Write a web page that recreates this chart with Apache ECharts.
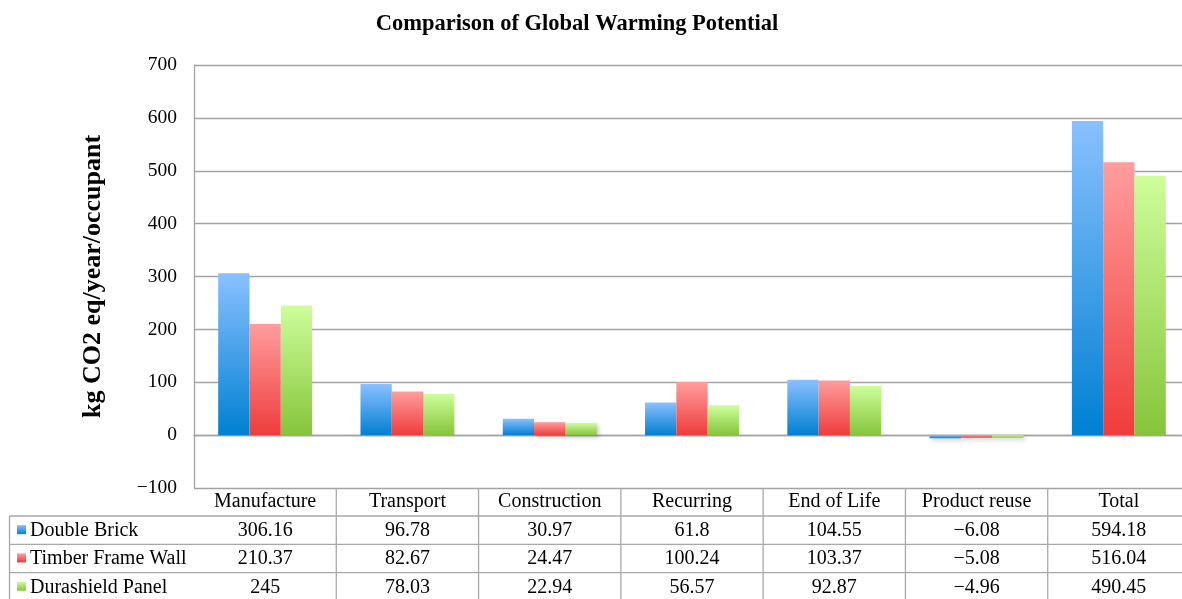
<!DOCTYPE html>
<html>
<head>
<meta charset="utf-8">
<script src="https://cdn.jsdelivr.net/npm/echarts@6/dist/echarts.min.js"></script>
<style>
  html, body { margin: 0; padding: 0; background: #fff; overflow: hidden; }
  /* the last table column runs slightly past the right edge of the page */
  #chart { width: 1190px; height: 599px; }
</style>
</head>
<body>
<div id="chart"></div>
<script>
// Life-cycle stages shown on the category axis and in the data table
const categories = ['Manufacture', 'Transport', 'Construction', 'Recurring', 'End of Life', 'Product reuse', 'Total'];
const seriesNames = ['Double Brick', 'Timber Frame Wall', 'Durashield Panel'];

// kg CO2 eq / year / occupant
const doubleBrick     = [306.16, 96.78, 30.97, 61.8, 104.55, -6.08, 594.18];
const timberFrameWall = [210.37, 82.67, 24.47, 100.24, 103.37, -5.08, 516.04];
const durashieldPanel = [245, 78.03, 22.94, 56.57, 92.87, -4.96, 490.45];

// Value axis ticks
const yMin = -100;
const yMax = 700;
const yStep = 100;

const seriesValues = [doubleBrick, timberFrameWall, durashieldPanel];

const SERIF = "'Liberation Serif', 'Times New Roman', serif";
const GRID_COLOR = '#a3a3a3';
const TABLE_COLOR = '#a8a8a8';

// Vertical gradients, light at the top of each bar and saturated at its base
const gradients = [
  ['#8ac0ff', '#0080d2'],
  ['#ff9d9d', '#ef3c3c'],
  ['#cdfe9b', '#86c53a']
].map(([top, bottom]) => new echarts.graphic.LinearGradient(0, 0, 0, 1, [
  { offset: 0, color: top },
  { offset: 1, color: bottom }
]));

const fmt = v => String(v).replace('-', '\u2212');

const chart = echarts.init(document.getElementById('chart'), null, { renderer: 'canvas' });

chart.setOption({
  animation: false,
  backgroundColor: '#fff',
  title: {
    text: 'Comparison of Global Warming Potential',
    left: 572,
    top: 8,
    textAlign: 'center',
    textStyle: { fontFamily: SERIF, fontWeight: 'bold', fontSize: 22.5, color: '#000' }
  },
  grid: { left: 194, top: 65, width: 996, height: 423, containLabel: false },
  xAxis: {
    type: 'category',
    data: categories,
    axisLine: { show: true, lineStyle: { color: GRID_COLOR, width: 1.3 } },
    axisTick: { show: false },
    axisLabel: { show: false }
  },
  yAxis: {
    type: 'value',
    min: yMin,
    max: yMax,
    interval: yStep,
    name: 'kg CO2 eq/year/occupant',
    nameLocation: 'middle',
    nameGap: 88,
    nameTextStyle: { fontFamily: SERIF, fontWeight: 'bold', fontSize: 26, color: '#000' },
    axisLine: { show: true, lineStyle: { color: GRID_COLOR, width: 1.3 } },
    axisTick: { show: false },
    axisLabel: {
      margin: 17,
      fontFamily: SERIF,
      fontSize: 19.5,
      color: '#000',
      formatter: fmt
    },
    splitLine: { show: true, lineStyle: { color: GRID_COLOR, width: 1.3 } }
  },
  series: seriesNames.map((name, i) => ({
    name,
    type: 'bar',
    data: seriesValues[i],
    barGap: '0%',
    barCategoryGap: '34%',
    itemStyle: {
      color: gradients[i],
      shadowColor: 'rgba(0,0,0,0.22)',
      shadowBlur: 4,
      shadowOffsetX: 2,
      shadowOffsetY: 2
    }
  }))
});

// Data table under the plot, laid out from the axis scales
function buildTable() {
  const c0 = chart.convertToPixel({ xAxisIndex: 0 }, categories[0]);
  const c1 = chart.convertToPixel({ xAxisIndex: 0 }, categories[1]);
  const colW = c1 - c0;
  const left = c0 - colW / 2;
  const right = left + colW * categories.length;
  const top = chart.convertToPixel({ yAxisIndex: 0 }, yMin);
  const headerH = 28;
  const rowH = 28.3;
  const tableLeft = 9.5;
  const bottom = top + headerH + rowH * seriesNames.length;

  const lineStyle = { stroke: TABLE_COLOR, lineWidth: 1.3 };
  const els = [];
  const line = (x1, y1, x2, y2) => els.push({
    type: 'line', silent: true,
    shape: { x1, y1, x2, y2 }, style: lineStyle
  });
  const text = (str, x, y, align) => els.push({
    type: 'text', silent: true, x, y,
    style: {
      text: str, fill: '#000', font: '20px ' + SERIF,
      textAlign: align, textVerticalAlign: 'middle'
    }
  });

  // column separators
  for (let k = 1; k <= categories.length; k++) {
    const x = left + colW * k;
    line(x, top, x, bottom);
  }
  line(tableLeft, top + headerH, tableLeft, bottom);
  // row separators
  for (let r = 0; r <= seriesNames.length; r++) {
    const y = top + headerH + rowH * r;
    line(tableLeft, y, right, y);
  }
  // header row
  categories.forEach((c, k) => text(c, left + colW * (k + 0.5), top + headerH / 2, 'center'));
  // series rows
  seriesNames.forEach((name, r) => {
    const cy = top + headerH + rowH * (r + 0.5);
    els.push({
      type: 'rect', silent: true,
      shape: { x: 17, y: cy - 5, width: 9, height: 9 },
      style: { fill: gradients[r] }
    });
    text(name, 30, cy + 0.5, 'left');
    seriesValues[r].forEach((v, k) => text(fmt(v), left + colW * (k + 0.5), cy + 0.5, 'center'));
  });

  chart.setOption({ graphic: { elements: els } });
}

buildTable();
</script>
</body>
</html>
